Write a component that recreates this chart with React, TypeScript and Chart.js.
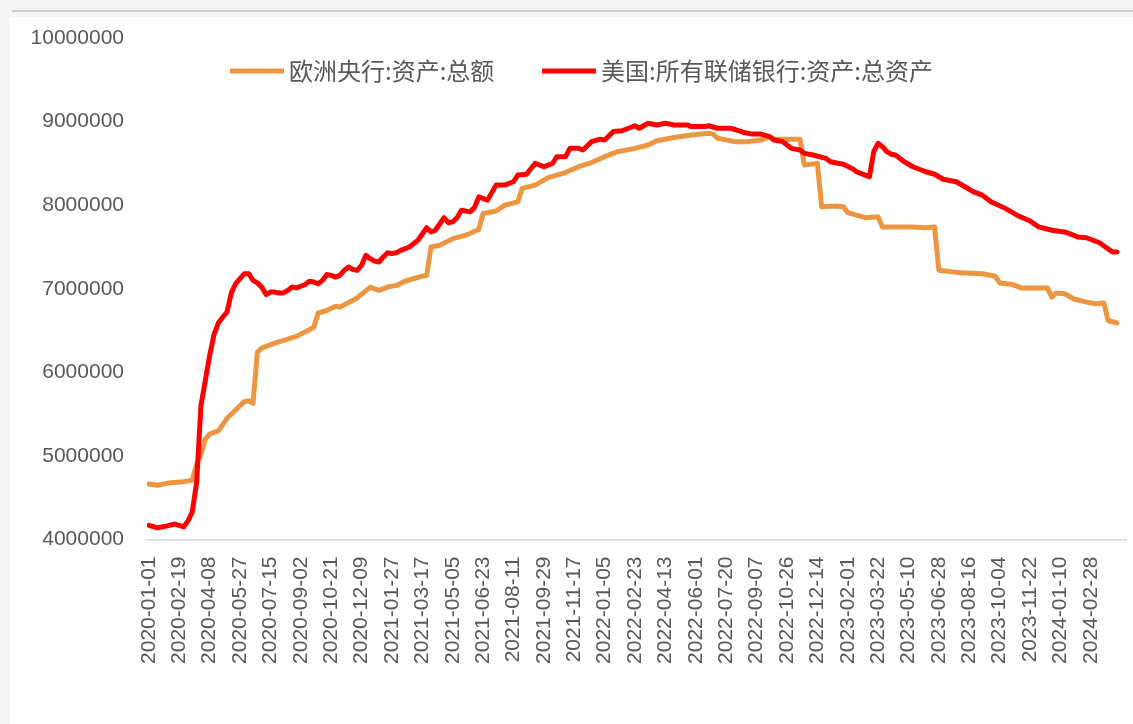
import React, { useEffect, useRef } from 'react';
import { Chart, registerables } from 'chart.js';

Chart.register(...registerables);

const ecbLabel = '欧洲央行:资产:总额';
const fedLabel = '美国:所有联储银行:资产:总资产';

const ecbDates = [
  '2020-01-01', '2020-01-15', '2020-02-05', '2020-02-26', '2020-03-11', '2020-03-18', '2020-03-25',
  '2020-04-01', '2020-04-08', '2020-04-22', '2020-05-06', '2020-05-20', '2020-06-03', '2020-06-10',
  '2020-06-17', '2020-06-24', '2020-07-01', '2020-07-22', '2020-08-26', '2020-09-16', '2020-09-23',
  '2020-09-30', '2020-10-14', '2020-10-28', '2020-11-04', '2020-12-02', '2020-12-23', '2021-01-06',
  '2021-01-20', '2021-02-03', '2021-02-17', '2021-03-17', '2021-03-24', '2021-03-31', '2021-04-14',
  '2021-04-28', '2021-05-05', '2021-05-26', '2021-06-16', '2021-06-23', '2021-07-14', '2021-07-28',
  '2021-08-18', '2021-08-25', '2021-09-15', '2021-10-06', '2021-11-03', '2021-11-24', '2021-12-15',
  '2022-01-05', '2022-01-26', '2022-02-23', '2022-03-16', '2022-03-30', '2022-04-27', '2022-05-25',
  '2022-06-22', '2022-06-29', '2022-07-06', '2022-08-03', '2022-08-24', '2022-09-14', '2022-09-28',
  '2022-10-05', '2022-11-16', '2022-11-23', '2022-12-14', '2022-12-21', '2023-01-11', '2023-01-25',
  '2023-02-01', '2023-02-15', '2023-03-01', '2023-03-22', '2023-03-29', '2023-05-03', '2023-05-17',
  '2023-06-07', '2023-06-21', '2023-06-28', '2023-07-12', '2023-08-02', '2023-09-06', '2023-09-27',
  '2023-10-04', '2023-10-25', '2023-11-08', '2023-12-20', '2023-12-27', '2024-01-03', '2024-01-17',
  '2024-01-31', '2024-02-21', '2024-03-06', '2024-03-20', '2024-03-27', '2024-04-10',
];
const ecbValues = [
  4664000, 4650000, 4680000, 4690000, 4710000, 4900000, 5020000,
  5200000, 5260000, 5300000, 5450000, 5550000, 5650000, 5660000,
  5630000, 6240000, 6290000, 6350000, 6430000, 6510000, 6540000,
  6710000, 6740000, 6790000, 6780000, 6890000, 7020000, 6980000,
  7020000, 7040000, 7090000, 7150000, 7160000, 7500000, 7520000,
  7570000, 7600000, 7640000, 7710000, 7900000, 7930000, 8000000,
  8040000, 8200000, 8240000, 8330000, 8390000, 8460000, 8510000,
  8580000, 8640000, 8680000, 8720000, 8770000, 8810000, 8840000,
  8860000, 8850000, 8800000, 8760000, 8760000, 8780000, 8820000,
  8790000, 8790000, 8480000, 8500000, 7980000, 7990000, 7980000,
  7910000, 7880000, 7850000, 7860000, 7740000, 7740000, 7740000,
  7730000, 7740000, 7220000, 7210000, 7190000, 7180000, 7150000,
  7070000, 7050000, 7010000, 7010000, 6900000, 6950000, 6940000,
  6880000, 6840000, 6820000, 6830000, 6620000, 6590000,
];

const fedDates = [
  '2020-01-01', '2020-01-15', '2020-01-29', '2020-02-12', '2020-02-26', '2020-03-04', '2020-03-11',
  '2020-03-18', '2020-03-25', '2020-04-01', '2020-04-08', '2020-04-15', '2020-04-22', '2020-04-29',
  '2020-05-06', '2020-05-13', '2020-05-20', '2020-05-27', '2020-06-03', '2020-06-10', '2020-06-17',
  '2020-06-24', '2020-07-01', '2020-07-08', '2020-07-15', '2020-07-22', '2020-07-29', '2020-08-05',
  '2020-08-12', '2020-08-19', '2020-08-26', '2020-09-02', '2020-09-09', '2020-09-16', '2020-09-23',
  '2020-09-30', '2020-10-07', '2020-10-14', '2020-10-21', '2020-10-28', '2020-11-04', '2020-11-11',
  '2020-11-18', '2020-11-25', '2020-12-02', '2020-12-09', '2020-12-16', '2020-12-23', '2020-12-30',
  '2021-01-06', '2021-01-13', '2021-01-20', '2021-01-27', '2021-02-03', '2021-02-10', '2021-02-24',
  '2021-03-10', '2021-03-24', '2021-03-31', '2021-04-07', '2021-04-21', '2021-04-28', '2021-05-05',
  '2021-05-12', '2021-05-19', '2021-06-02', '2021-06-09', '2021-06-16', '2021-06-30', '2021-07-14',
  '2021-07-28', '2021-08-11', '2021-08-18', '2021-09-01', '2021-09-15', '2021-09-29', '2021-10-13',
  '2021-10-20', '2021-11-03', '2021-11-10', '2021-11-24', '2021-12-01', '2021-12-15', '2021-12-29',
  '2022-01-05', '2022-01-19', '2022-02-02', '2022-02-23', '2022-03-02', '2022-03-16', '2022-03-30',
  '2022-04-13', '2022-04-27', '2022-05-18', '2022-05-25', '2022-06-15', '2022-06-22', '2022-07-06',
  '2022-07-27', '2022-08-10', '2022-08-17', '2022-08-31', '2022-09-14', '2022-09-28', '2022-10-05',
  '2022-10-19', '2022-11-02', '2022-11-16', '2022-11-23', '2022-12-07', '2022-12-28', '2023-01-04',
  '2023-01-25', '2023-02-08', '2023-02-15', '2023-02-22', '2023-03-01', '2023-03-08', '2023-03-15',
  '2023-03-22', '2023-03-29', '2023-04-05', '2023-04-12', '2023-04-19', '2023-05-03', '2023-05-17',
  '2023-06-07', '2023-06-21', '2023-07-05', '2023-07-26', '2023-08-09', '2023-08-23', '2023-09-06',
  '2023-09-20', '2023-10-11', '2023-11-01', '2023-11-22', '2023-12-06', '2023-12-27', '2024-01-17',
  '2024-02-07', '2024-02-21', '2024-03-13', '2024-04-03', '2024-04-10',
];
const fedValues = [
  4170000, 4140000, 4160000, 4185000, 4150000, 4220000, 4330000,
  4680000, 5600000, 5900000, 6200000, 6450000, 6590000, 6660000,
  6720000, 6950000, 7060000, 7120000, 7180000, 7180000, 7100000,
  7070000, 7020000, 6930000, 6960000, 6960000, 6950000, 6950000,
  6980000, 7020000, 7010000, 7030000, 7050000, 7090000, 7080000,
  7060000, 7100000, 7170000, 7160000, 7140000, 7160000, 7220000,
  7260000, 7230000, 7220000, 7280000, 7400000, 7360000, 7330000,
  7320000, 7380000, 7430000, 7420000, 7430000, 7460000, 7500000,
  7580000, 7730000, 7680000, 7700000, 7850000, 7790000, 7800000,
  7850000, 7940000, 7920000, 7970000, 8100000, 8060000, 8240000,
  8240000, 8280000, 8360000, 8370000, 8500000, 8460000, 8500000,
  8580000, 8580000, 8680000, 8680000, 8660000, 8760000, 8790000,
  8780000, 8880000, 8890000, 8950000, 8920000, 8980000, 8960000,
  8980000, 8960000, 8960000, 8940000, 8940000, 8950000, 8920000,
  8920000, 8890000, 8870000, 8850000, 8850000, 8820000, 8780000,
  8760000, 8680000, 8660000, 8620000, 8600000, 8560000, 8520000,
  8490000, 8440000, 8400000, 8380000, 8360000, 8340000, 8640000,
  8740000, 8700000, 8640000, 8610000, 8600000, 8520000, 8460000,
  8400000, 8370000, 8310000, 8280000, 8220000, 8160000, 8120000,
  8040000, 7970000, 7880000, 7810000, 7740000, 7700000, 7680000,
  7620000, 7610000, 7550000, 7440000, 7440000,
];

const xTickLabels = [
  '2020-01-01', '2020-02-19', '2020-04-08', '2020-05-27', '2020-07-15', '2020-09-02', '2020-10-21',
  '2020-12-09', '2021-01-27', '2021-03-17', '2021-05-05', '2021-06-23', '2021-08-11', '2021-09-29',
  '2021-11-17', '2022-01-05', '2022-02-23', '2022-04-13', '2022-06-01', '2022-07-20', '2022-09-07',
  '2022-10-26', '2022-12-14', '2023-02-01', '2023-03-22', '2023-05-10', '2023-06-28', '2023-08-16',
  '2023-10-04', '2023-11-22', '2024-01-10', '2024-02-28',
];
const yTickValues = [4000000, 5000000, 6000000, 7000000, 8000000, 9000000, 10000000];

const ORIGIN = Date.UTC(2020, 0, 1);
function dayOf(s: string): number {
  const [y, m, d] = s.split('-').map(Number);
  return Math.round((Date.UTC(y, m - 1, d) - ORIGIN) / 86400000);
}

const TEXT_COLOR = '#595959';
const legendCfg = {
  xs: [230, 542],
  lineY: 71,
  textY: 71,
  lineLength: 54,
  lineWidth: 5,
  gap: 5,
  font: '24px "Noto Sans CJK SC"',
};

const manualLegend = {
  id: 'manualLegend',
  afterDraw(chart: any) {
    const ctx = chart.ctx;
    ctx.save();
    ctx.font = legendCfg.font;
    ctx.textBaseline = 'middle';
    ctx.textAlign = 'left';
    chart.data.datasets.forEach((ds: any, i: number) => {
      const x = legendCfg.xs[i];
      ctx.strokeStyle = ds.borderColor;
      ctx.lineWidth = legendCfg.lineWidth;
      ctx.lineCap = 'butt';
      ctx.beginPath();
      ctx.moveTo(x, legendCfg.lineY);
      ctx.lineTo(x + legendCfg.lineLength, legendCfg.lineY);
      ctx.stroke();
      ctx.fillStyle = TEXT_COLOR;
      ctx.fillText(ds.label, x + legendCfg.lineLength + legendCfg.gap, legendCfg.textY);
    });
    ctx.restore();
  },
};

export default function App() {
  const canvasRef = useRef<HTMLCanvasElement | null>(null);

  useEffect(() => {
    document.body.style.margin = '0';
    const canvas = canvasRef.current;
    if (!canvas) return;
    const tickFont = { family: '"Liberation Sans", Arial, sans-serif', size: 21 };
    const chart = new Chart(canvas, {
      type: 'line',
      data: {
        datasets: [
          {
            label: ecbLabel,
            data: ecbDates.map((d, i) => ({ x: dayOf(d), y: ecbValues[i] })),
            borderColor: '#ED9641',
            backgroundColor: '#ED9641',
            borderWidth: 5,
            pointRadius: 0,
            tension: 0,
            borderJoinStyle: 'round',
            borderCapStyle: 'round',
            order: 1,
          },
          {
            label: fedLabel,
            data: fedDates.map((d, i) => ({ x: dayOf(d), y: fedValues[i] })),
            borderColor: '#FF0000',
            backgroundColor: '#FF0000',
            borderWidth: 5,
            pointRadius: 0,
            tension: 0,
            borderJoinStyle: 'round',
            borderCapStyle: 'round',
            order: 0,
          },
        ],
      },
      options: {
        animation: false,
        responsive: false,
        devicePixelRatio: 1,
        parsing: false as any,
        normalized: true,
        layout: { padding: { left: 30, top: 38, right: 0, bottom: 34.5 } },
        plugins: {
          legend: { display: false },
          tooltip: { enabled: false },
        },
        scales: {
          x: {
            type: 'linear',
            min: -3,
            max: 1576,
            grid: { display: false, drawTicks: false },
            border: { display: true, color: '#d9d9d9', width: 1.5 },
            afterBuildTicks: (scale: any) => {
              scale.ticks = xTickLabels.map((s) => ({ value: dayOf(s) }));
            },
            afterFit: (scale: any) => {
              scale.height = 150;
            },
            ticks: {
              autoSkip: false,
              minRotation: 90,
              maxRotation: 90,
              padding: 17,
              color: TEXT_COLOR,
              font: tickFont,
              callback: (_v: any, i: number) => xTickLabels[i],
            },
          },
          y: {
            type: 'linear',
            min: 4000000,
            max: 10000000,
            grid: { display: false, drawTicks: false },
            border: { display: false },
            afterBuildTicks: (scale: any) => {
              scale.ticks = yTickValues.map((v) => ({ value: v }));
            },
            afterFit: (scale: any) => {
              scale.width = 117;
            },
            ticks: {
              padding: 23,
              color: TEXT_COLOR,
              font: tickFont,
              callback: (v: any) => String(v),
            },
          },
        },
      },
      plugins: [manualLegend],
    } as any);
    return () => chart.destroy();
  }, []);

  return (
    <div style={{ position: 'relative', width: 1133, height: 724, background: '#f5f5f5', overflow: 'hidden' }}>
      <div style={{ position: 'absolute', left: 12, right: 0, top: 10, height: 2, background: '#cfcfcf' }} />
      <div style={{ position: 'absolute', left: 10, right: 0, top: 17, bottom: 0, background: '#ffffff' }} />
      <canvas ref={canvasRef} width={1133} height={724} style={{ position: 'absolute', left: 0, top: 0 }} />
    </div>
  );
}
